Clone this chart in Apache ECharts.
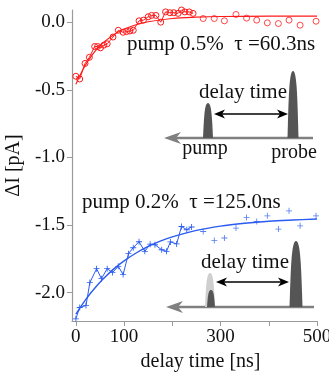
<!DOCTYPE html>
<html><head><meta charset="utf-8">
<script src="https://cdn.jsdelivr.net/npm/echarts@6/dist/echarts.min.js"></script>
<style>html,body{margin:0;padding:0;background:#fff}#c{width:329px;height:372px}</style>
</head><body><div id="c"></div>
<script>
// ---- data ----
const redTime  = [0,8,19,28,39,45,51,58,65,77,88,98,105,112,119,131,140,150,157,166,176,186,195,203,212,219,226,235,243];
const redValue = [-0.40,-0.42,-0.305,-0.26,-0.18,-0.18,-0.19,-0.17,-0.16,-0.11,-0.06,-0.075,-0.07,-0.065,-0.06,0.01,0.015,0.04,0.05,0.05,0.0,0.076,0.07,0.07,0.065,0.09,0.076,0.076,0.065];
const redTailTime  = [264,287,308,332,354,375,397,420,442,465,498];
const redTailValue = [0.027,0.027,0.01,0.057,0.03,0.015,-0.005,-0.01,0.015,-0.022,0.007];
const redFitTime  = [0,10,20,30,40,50,60,80,100,125,150,200,250,300,400,500];
const redFitValue = [-0.46,-0.383,-0.317,-0.262,-0.215,-0.175,-0.142,-0.089,-0.051,-0.019,0.003,0.027,0.037,0.042,0.044,0.045];

const blueTime  = [0,8,21,29,43,53,65,76,88,98,109,119,131,143,154,164,178,188,196,209,219,230,240];
const blueValue = [-2.194,-2.11,-2.096,-1.926,-1.823,-1.897,-1.823,-1.852,-1.806,-1.867,-1.712,-1.668,-1.624,-1.695,-1.642,-1.646,-1.683,-1.695,-1.625,-1.64,-1.511,-1.535,-1.515];
const blueTailTime  = [264,287,308,332,354,375,397,420,442,465,498];
const blueTailValue = [-1.548,-1.614,-1.596,-1.523,-1.445,-1.474,-1.432,-1.530,-1.395,-1.506,-1.432];
const blueFitTime  = [0,10,20,30,40,50,60,80,100,125,150,175,200,250,300,350,400,450,500];
const blueFitValue = [-2.16,-2.105,-2.054,-2.007,-1.964,-1.924,-1.887,-1.821,-1.765,-1.707,-1.659,-1.620,-1.588,-1.540,-1.508,-1.487,-1.472,-1.463,-1.456];

const xTicks = [0,100,200,300,400,500];
const xTickLabels = [0,100,300,500];
const yTicks = [0,-0.5,-1,-1.5,-2];

const redLabel  = 'pump 0.5%  τ =60.3ns';
const blueLabel = 'pump 0.2%  τ =125.0ns';

// ---- helpers ----
const pairs = (a,b) => a.map((t,i)=>[t,b[i]]);
const RED = '#ff1a1a', BLUE = '#2a5cf0';
const FONT = '"Liberation Serif","Times New Roman",serif';
const PLUS = 'path://M4.3,0H5.7V4.3H10V5.7H5.7V10H4.3V5.7H0V4.3H4.3Z';

function bez(p0,p1,p2,p3,t){
  const u=1-t;
  return [u*u*u*p0[0]+3*u*u*t*p1[0]+3*u*t*t*p2[0]+t*t*t*p3[0],
          u*u*u*p0[1]+3*u*u*t*p1[1]+3*u*t*t*p2[1]+t*t*t*p3[1]];
}
function pulse(cx, w, base, top, fill){
  const l = cx - w/2, r = cx + w/2, h = base - top;
  const pts = [];
  const N = 16;
  for(let i=0;i<=N;i++) pts.push(bez([l,base],[l+w*0.1,base-h*0.6],[cx-w*0.35,top],[cx,top],i/N));
  for(let i=1;i<=N;i++) pts.push(bez([cx,top],[cx+w*0.35,top],[r-w*0.1,base-h*0.6],[r,base],i/N));
  return {type:'polygon', silent:true, shape:{points:pts}, style:{fill:fill}};
}
function grayArrow(x0, x1, y){
  return [
    {type:'line', silent:true, shape:{x1:x0+10,y1:y,x2:x1,y2:y}, style:{stroke:'#808080', lineWidth:2.5}},
    {type:'polygon', silent:true, shape:{points:[[x0,y],[x0+17,y-6],[x0+12,y],[x0+17,y+6]]}, style:{fill:'#808080'}}
  ];
}
function dblArrow(x0, x1, y){
  return [
    {type:'line', silent:true, shape:{x1:x0+5,y1:y,x2:x1-5,y2:y}, style:{stroke:'#000', lineWidth:1.6}},
    {type:'polygon', silent:true, shape:{points:[[x0,y],[x0+11,y-4.5],[x0+8,y],[x0+11,y+4.5]]}, style:{fill:'#000'}},
    {type:'polygon', silent:true, shape:{points:[[x1,y],[x1-11,y-4.5],[x1-8,y],[x1-11,y+4.5]]}, style:{fill:'#000'}}
  ];
}
function txt(s, x, y, size, align){
  return {type:'text', silent:true, x:0, y:0, style:{text:s, x:x, y:y, font:`${size}px ${FONT}`, fill:'#111',
    align:align||'center', verticalAlign:'middle'}};
}

const graphics = [].concat(
  grayArrow(164, 313, 138),
  [pulse(208, 10, 138, 103, '#555'), pulse(293, 11, 138, 71, '#555')],
  dblArrow(214, 288, 114),
  [txt('delay time', 243, 92, 21), txt('pump', 205, 149, 20), txt('probe', 294, 153, 20)],
  grayArrow(166, 314, 307),
  [pulse(210, 10, 307, 273, '#cfcfcf'), pulse(211, 8, 307, 290, '#555'), pulse(296, 13, 307, 241, '#555')],
  dblArrow(216, 289, 282),
  [txt('delay time', 245, 262, 21)],
  [txt(redLabel, 127, 44, 21, 'left'), txt(blueLabel, 82, 202, 21, 'left')]
);

const chart = echarts.init(document.getElementById('c'), null, {renderer:'canvas'});
chart.setOption({
  backgroundColor:'#fff',
  animation:false,
  grid:{left:72, right:12, top:10, bottom:51, containLabel:false, outerBoundsMode:'none'},
  xAxis:{
    type:'value', min:-8, max:500,
    name:'delay time [ns]', nameLocation:'middle', nameGap:27,
    nameTextStyle:{fontFamily:FONT, fontSize:20, color:'#111', padding:[0,0,0,12]},
    axisLine:{show:true, onZero:false, lineStyle:{color:'#9a9a9a', width:1.2}},
    axisTick:{show:true, length:5, customValues:xTicks, lineStyle:{color:'#9a9a9a'}},
    axisLabel:{customValues:xTickLabels, fontFamily:FONT, fontSize:19, color:'#111', margin:7},
    splitLine:{show:false}
  },
  yAxis:{
    type:'value', min:-2.21, max:0.09,
    name:'ΔI [pA]', nameLocation:'middle', nameGap:38, nameRotate:90,
    nameTextStyle:{fontFamily:FONT, fontSize:20, color:'#111'},
    axisLine:{show:true, onZero:false, lineStyle:{color:'#9a9a9a', width:1.2}},
    axisTick:{show:true, length:5, customValues:yTicks, lineStyle:{color:'#9a9a9a'}},
    axisLabel:{customValues:yTicks, fontFamily:FONT, fontSize:19, color:'#111', margin:7,
      formatter:v=>v.toFixed(1)},
    splitLine:{show:false}
  },
  graphic:graphics,
  series:[
    {type:'line', data:pairs(redFitTime, redFitValue), smooth:0.35, showSymbol:false,
     lineStyle:{color:RED, width:1.2}, z:3},
    {type:'line', data:pairs(redTime, redValue), symbol:'circle', symbolSize:6,
     itemStyle:{color:'rgba(0,0,0,0)', borderColor:RED, borderWidth:1},
     lineStyle:{color:RED, width:1}, z:4},
    {type:'scatter', data:pairs(redTailTime, redTailValue), symbol:'circle', symbolSize:6,
     itemStyle:{color:'rgba(0,0,0,0)', borderColor:RED, borderWidth:1}, z:4},
    {type:'line', data:pairs(blueFitTime, blueFitValue), smooth:0.35, showSymbol:false,
     lineStyle:{color:BLUE, width:1.4}, z:3},
    {type:'line', data:pairs(blueTime, blueValue), symbol:PLUS, symbolSize:6,
     itemStyle:{color:BLUE}, lineStyle:{color:BLUE, width:1}, z:4},
    {type:'scatter', data:pairs(blueTailTime, blueTailValue), symbol:PLUS, symbolSize:6,
     itemStyle:{color:BLUE}, z:4}
  ]
});
</script></body></html>
